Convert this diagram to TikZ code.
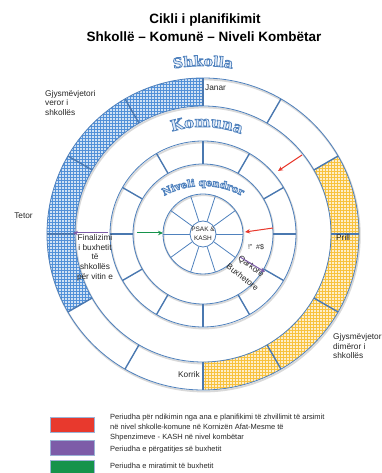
\documentclass[tikz,border=0pt]{standalone}
\usepackage{fontspec}
\setmainfont{Liberation Sans}
\newfontfamily\artfont{DejaVu Serif}
\usetikzlibrary{calc,decorations.text,patterns.meta,arrows.meta}
\definecolor{ringblue}{HTML}{4F81BD}
\definecolor{tickblue}{HTML}{4A78B0}
\definecolor{hatchblue}{HTML}{4F8FD8}
\definecolor{hatchyellow}{HTML}{F8C23A}
\definecolor{artblue}{HTML}{4F81BD}
\definecolor{arrred}{HTML}{E8392D}
\definecolor{arrpurple}{HTML}{7D5CA8}
\definecolor{arrgreen}{HTML}{16934B}
\definecolor{legedge}{HTML}{9BB3D6}
\newcommand\artstyle{\special{pdf:literal direct 0.88 0.92 0.975 rg 0.31 0.506 0.741 RG 2 Tr 0.75 w}}
% #1 centre y, #2 mid angle, #3 radius, #4 half span, #5 font size, #6 text
\newcommand\wordart[6]{%
  \begin{scope}[shift={(203,#1)}]
  \path[decorate, decoration={text along path, text align=center,
     text={|\artfont\bfseries\fontsize{#5}{#5}\selectfont\artstyle|#6}}]
     (#2+#4:#3) arc[start angle=#2+#4, end angle=#2-#4, radius=#3];
  \end{scope}}
\begin{document}
\begin{tikzpicture}[x=1pt,y=1pt,
  ringline/.style={draw=ringblue, line width=0.8pt},
  tickline/.style={draw=tickblue, line width=1.4pt},
  shadowline/.style={draw=gray!30, line width=1.8pt},
  lbl/.style={font=\fontsize{8.3}{9.6}\selectfont, inner sep=0pt, text=black!85},
  legtext/.style={font=\fontsize{7.5}{10.3}\selectfont, inner sep=0pt, anchor=west, align=left, text=black!85},
  legbox/.style={draw=legedge, line width=1pt, minimum width=44pt, minimum height=15pt, inner sep=0pt},
  arr/.style={line width=1pt, -{Stealth[length=5pt,width=4.5pt]}}]
\useasboundingbox (0,0) rectangle (382,473);
\coordinate (C) at (203,239);
% shadows
\draw[shadowline] ($(C)+(0.8,-1.5)$) circle[radius=156];
\draw[shadowline] ($(C)+(0.8,-1.5)$) circle[radius=128];
\draw[shadowline] ($(C)+(0.8,-1.5)$) circle[radius=93];
\draw[shadowline] ($(C)+(0.6,-1.2)$) circle[radius=70];
\draw[shadowline] ($(C)+(0.6,-1.2)$) circle[radius=40];
% hatched sectors
\path[preaction={fill=hatchblue}, pattern={Dots[radius=1.05pt,distance=3pt]}, pattern color=white]
  ($(C)+(90:156)$) arc[start angle=90,end angle=210,radius=156]
  -- ($(C)+(210:128)$) arc[start angle=210,end angle=90,radius=128] -- cycle;
\path[preaction={fill=hatchyellow}, pattern={Dots[radius=1.05pt,distance=3pt]}, pattern color=white]
  ($(C)+(30:156)$) arc[start angle=30,end angle=-90,radius=156]
  -- ($(C)+(-90:128)$) arc[start angle=-90,end angle=30,radius=128] -- cycle;
% rings
\foreach \r in {156,128,93,70,40,13}{\draw[ringline] (C) circle[radius=\r];}
\foreach \a in {0,30,...,330}{
  \draw[tickline] ($(C)+(\a:128)$) -- ($(C)+(\a:156)$);
  \draw[tickline] ($(C)+(\a:70)$) -- ($(C)+(\a:93)$);}
\foreach \a in {0,36,...,324}{\draw[ringline] ($(C)+(\a:13)$) -- ($(C)+(\a:40)$);}
% word art
\wordart{239}{90}{168}{40}{14}{Shkolla}
\wordart{239}{88}{107}{45}{15}{Komuna}
\wordart{206}{90}{81}{45}{10}{Niveli qendror}
% center
\node[font=\fontsize{6.5}{9}\selectfont, align=center, inner sep=0pt, text=black!85] (psak) at (C) {PSAK \&\\KASH};
% title
\node[font=\bfseries\fontsize{13.5}{15}\selectfont] (t1) at (205,453) {Cikli i planifikimit};
\node[font=\bfseries\fontsize{13.5}{15}\selectfont] (t2) at (204,436) {Shkollë – Komunë – Niveli Kombëtar};
% labels
\node[lbl, anchor=west] (janar) at (205,385) {Janar};
\node[lbl, anchor=west] (prill) at (336,236) {Prill};
\node[lbl, anchor=east] (korrik) at (200,98) {Korrik};
\node[lbl] (tetor) at (23.5,257) {Tetor};
\node[lbl, anchor=north west, align=left] (gver) at (45,383) {Gjysmëvjetori\\veror i\\shkollës};
\node[lbl, anchor=north west, align=left] (gdim) at (333,139.5) {Gjysmëvjetori\\dimëror i\\shkollës};
\begin{scope}
\clip (60,180) rectangle (112.5,250);
\node[lbl, anchor=north, align=center] (fin) at (95,238.5) {Finalizimi\\i buxhetit\\të\\shkollës\\për vitin e};
\end{scope}
\node[lbl, font=\fontsize{7}{8}\selectfont] (garb) at (256,226) {!"\ \ \#\$};
\node[lbl, rotate=-38, align=center] (qb) at (247,201.5) {Qarkore\\[4.5pt]Buxhetore};
% arrows
\coordinate (r1s) at (302,318); \coordinate (r1e) at (278,302);
\coordinate (r2s) at (273,245); \coordinate (r2e) at (245,241);
\coordinate (gs) at (137,240); \coordinate (ge) at (163,240);
\coordinate (p1s) at (108,240); \coordinate (p1e) at (73,240);
\coordinate (p2s) at (240,216); \coordinate (p2e) at (265,201);
\draw[arr, arrred] (r1s) -- (r1e);
\draw[arr, arrred] (r2s) -- (r2e);
\draw[arr, arrgreen] (gs) -- (ge);
\draw[arr, arrpurple] (p1s) -- (p1e);
\draw[arr, arrpurple] (p2s) -- (p2e);
% legend
\node[legbox, fill=arrred] (lr) at (72,47.5) {};
\node[legbox, fill=arrpurple] (lp) at (72,25) {};
\node[legbox, fill=arrgreen] (lg) at (72,4.5) {};
\node[legtext] (ltr) at (110,45.5) {Periudha për ndikimin nga ana e planifikimi të zhvillimit të arsimit\\në nivel shkolle-komune në Kornizën Afat-Mesme të\\Shpenzimeve - KASH në nivel kombëtar};
\node[legtext] (ltp) at (110,23) {Periudha e përgatitjes së buxhetit};
\node[legtext] (ltg) at (110,7) {Periudha e miratimit të buxhetit};
\end{tikzpicture}
\end{document}
